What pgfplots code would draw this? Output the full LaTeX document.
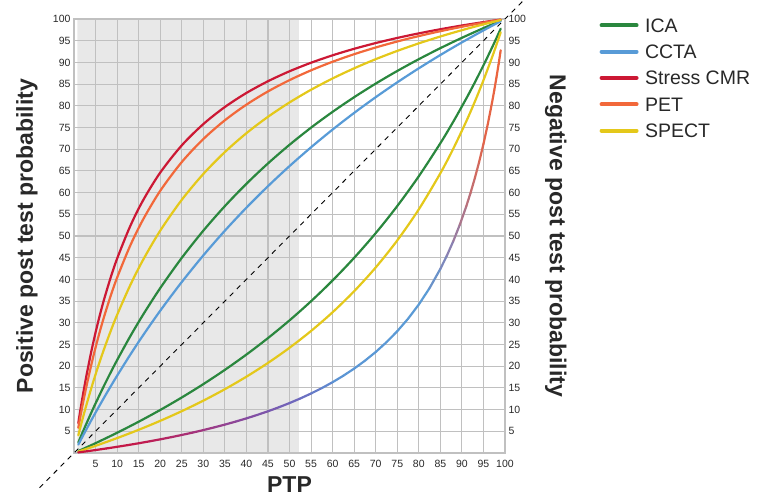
\documentclass[border=0pt]{standalone}
\usepackage{pgfplots}
\pgfplotsset{compat=1.18}
\usepackage{fontspec}
\setmainfont{Liberation Sans}
\definecolor{icac}{RGB}{42,135,62}
\definecolor{cctac}{RGB}{88,155,215}
\definecolor{cmrc}{RGB}{204,24,52}
\definecolor{petc}{RGB}{242,104,58}
\definecolor{spectc}{RGB}{228,200,26}
\definecolor{gridc}{RGB}{192,192,192}
\definecolor{shadec}{RGB}{232,232,232}
\definecolor{tickc}{RGB}{40,40,40}
\pgfplotsset{colormap={lowmap}{rgb255(0cm)=(200,20,60) rgb255(15cm)=(195,25,75) rgb255(30cm)=(160,55,130) rgb255(42cm)=(130,80,165) rgb255(52cm)=(110,105,190) rgb255(62cm)=(91,150,213) rgb255(82cm)=(91,155,213) rgb255(87cm)=(135,130,180) rgb255(91cm)=(180,115,130) rgb255(95cm)=(225,100,75) rgb255(100cm)=(240,100,55)}}
\begin{document}
\begin{tikzpicture}
\begin{axis}[
  set layers=standard,
  scale only axis, width=431pt, height=434pt,
  xmin=0, xmax=100, ymin=0, ymax=100,
  xtick={5,10,...,100}, ytick={5,10,...,100},
  major tick length=0pt,
  grid=major, grid style={draw=gridc, line width=1.1pt},
  axis line style={draw=gridc, line width=1.1pt},
  /pgf/number format/assume math mode=true,
  ticklabel style={font=\fontsize{10.5}{12}\selectfont, text=tickc},
  xticklabel style={yshift=-4pt},
  xlabel={PTP}, ylabel={Positive post test probability},
  xlabel style={font=\fontsize{23}{26}\bfseries\selectfont, text=tickc, inner sep=0pt, at={(axis description cs:0.5,-0.092)}, anchor=base},
  ylabel style={font=\fontsize{23}{26}\bfseries\selectfont, text=tickc, at={(axis description cs:-0.109,0.5)}, anchor=center},
  point meta min=0, point meta max=100,
  clip=false,
  legend cell align=left,
  legend image code/.code={\draw[#1, line width=4pt] (0pt,0pt) -- (35pt,0pt);},
  legend style={draw=none, fill=none, at={(1.212,1.01)}, anchor=north west,
    font=\fontsize{19.5}{22}\selectfont, text=tickc,
    nodes={inner sep=1.5pt, text height=14pt, text depth=0pt},
    row sep=9.3pt,
    /tikz/every odd column/.append style={column sep=5pt}},
  every axis plot/.append style={line width=2.2pt, line join=round, line cap=round},
]
\addplot[fill=shadec, draw=none, on layer=axis background, forget plot] coordinates {(0.8,0) (52.2,0) (52.2,100) (0.8,100) (0.8,0)};
\addplot[black, line width=0.9pt, dash pattern=on 5pt off 5pt, line cap=butt, forget plot] coordinates {(-8,-8) (104.6,104.6)};

\addplot[icac, smooth] coordinates {(1,2.415) (1.5,3.597) (2,4.762) (2.5,5.911) (3,7.044) (4,9.263) (5,11.422) (7,15.570) (8.5,18.540) (10,21.397) (13,26.798) (16,31.818) (20,37.984) (25,44.954) (30,51.220) (35,56.882) (40,62.025) (45,66.717) (50,71.014) (55,74.965) (60,78.610) (65,81.982) (70,85.112) (75,88.024) (80,90.741) (85,93.281) (90,95.662) (95,97.897) (99,99.589)};
\addlegendentry{ICA}
\addplot[cctac, smooth] coordinates {(1,1.932) (1.5,2.884) (2,3.827) (2.5,4.762) (3,5.688) (4,7.514) (5,9.308) (7,12.799) (8.5,15.337) (10,17.808) (13,22.563) (16,27.083) (20,32.773) (25,39.394) (30,45.525) (35,51.220) (40,56.522) (45,61.471) (50,66.102) (55,70.443) (60,74.522) (65,78.362) (70,81.982) (75,85.401) (80,88.636) (85,91.701) (90,94.609) (95,97.372) (99,99.485)};
\addlegendentry{CCTA}
\addplot[cmrc, smooth] coordinates {(1,6.867) (1.5,10.005) (2,12.966) (2.5,15.767) (3,18.419) (4,23.323) (5,27.757) (6,31.785) (7,35.461) (8.5,40.410) (10,44.785) (13,52.172) (16,58.167) (20,64.602) (25,70.874) (30,75.779) (35,79.719) (40,82.955) (45,85.658) (50,87.952) (55,89.922) (60,91.632) (65,93.131) (70,94.455) (75,95.633) (80,96.689) (85,97.640) (90,98.501) (95,99.284) (99,99.862)};
\addlegendentry{Stress CMR}
\addplot[petc, smooth] coordinates {(1,5.804) (1.5,8.500) (2,11.071) (2.5,13.525) (3,15.872) (4,20.266) (5,24.303) (6,28.025) (7,31.467) (8.5,36.170) (10,40.397) (13,47.685) (16,53.744) (20,60.396) (25,67.033) (30,72.332) (35,76.661) (40,80.263) (45,83.308) (50,85.915) (55,88.173) (60,90.148) (65,91.889) (70,93.435) (75,94.819) (80,96.063) (85,97.188) (90,98.211) (95,99.145) (99,99.835)};
\addlegendentry{PET}
\addplot[spectc, smooth] coordinates {(1,4.070) (1.5,6.011) (2,7.895) (2.5,9.722) (3,11.496) (4,14.894) (5,18.103) (6,21.141) (7,24.020) (8.5,28.066) (10,31.818) (13,38.559) (16,44.444) (20,51.220) (25,58.333) (30,64.286) (35,69.340) (40,73.684) (45,77.459) (50,80.769) (55,83.696) (60,86.301) (65,88.636) (70,90.741) (75,92.647) (80,94.382) (85,95.968) (90,97.423) (95,98.762) (99,99.760)};
\addlegendentry{SPECT}

\addplot[icac, smooth, forget plot] coordinates {(1,0.442) (5,2.263) (10,4.661) (15,7.205) (20,9.910) (25,12.791) (30,15.865) (35,19.154) (40,22.680) (45,26.471) (50,30.556) (55,34.971) (60,39.759) (65,44.969) (70,50.658) (75,56.897) (80,63.768) (85,71.374) (88,76.341) (91,81.648) (93,85.392) (95,89.316) (97,93.433) (98,95.567) (99,97.756)};
\addplot[spectc, smooth, forget plot] coordinates {(1,0.322) (5,1.656) (10,3.433) (15,5.345) (20,7.407) (25,9.639) (30,12.060) (35,14.698) (40,17.582) (45,20.749) (50,24.242) (55,28.115) (60,32.432) (65,37.276) (70,42.748) (75,48.980) (80,56.140) (85,64.455) (88,70.120) (91,76.390) (93,80.958) (95,85.876) (97,91.187) (98,94.005) (99,96.940)};
\addplot[mesh, point meta=x, colormap name=lowmap, forget plot] coordinates {(1,0.131) (3,0.400) (5,0.680) (7.5,1.043) (10,1.424) (12.5,1.823) (15,2.243) (17.5,2.684) (20,3.148) (22.5,3.637) (25,4.153) (27.5,4.699) (30,5.277) (32.5,5.891) (35,6.542) (37.5,7.236) (40,7.975) (42.5,8.766) (45,9.614) (47.5,10.524) (50,11.504) (52.5,12.563) (55,13.710) (57.5,14.957) (60,16.318) (62.5,17.808) (65,19.448) (67.5,21.260) (70,23.274) (72.5,25.525) (75,28.058) (77.5,30.929) (80,34.211) (82.5,37.998) (85,42.418) (86.5,45.443) (88,48.805) (89.5,52.564) (91,56.793) (92,59.920) (93,63.332) (94,67.069) (95,71.182) (96,75.728) (97,80.781) (97.5,83.526) (98,86.431) (98.5,89.514) (99,92.790)};
\coordinate (O) at (axis cs:0,0);
\end{axis}
\begin{axis}[
  scale only axis, width=431pt, height=434pt,
  xmin=0, xmax=100, ymin=0, ymax=100,
  axis x line=none, axis y line*=right,
  ytick={5,10,...,100}, major tick length=0pt,
  axis line style={draw=gridc, line width=1.1pt},
  /pgf/number format/assume math mode=true,
  ticklabel style={font=\fontsize{10.5}{12}\selectfont, text=tickc},
  ylabel={Negative post test probability},
  ylabel style={font=\fontsize{23}{26}\bfseries\selectfont, text=tickc, at={(axis description cs:1.118,0.5)}, anchor=center, rotate=180},
]
\addplot[draw=none] coordinates {(0,0) (100,100)};
\end{axis}
\pgfresetboundingbox
\path ([shift={(-74pt,-44pt)}]O) rectangle ([shift={(683pt,453pt)}]O);
\end{tikzpicture}
\end{document}
